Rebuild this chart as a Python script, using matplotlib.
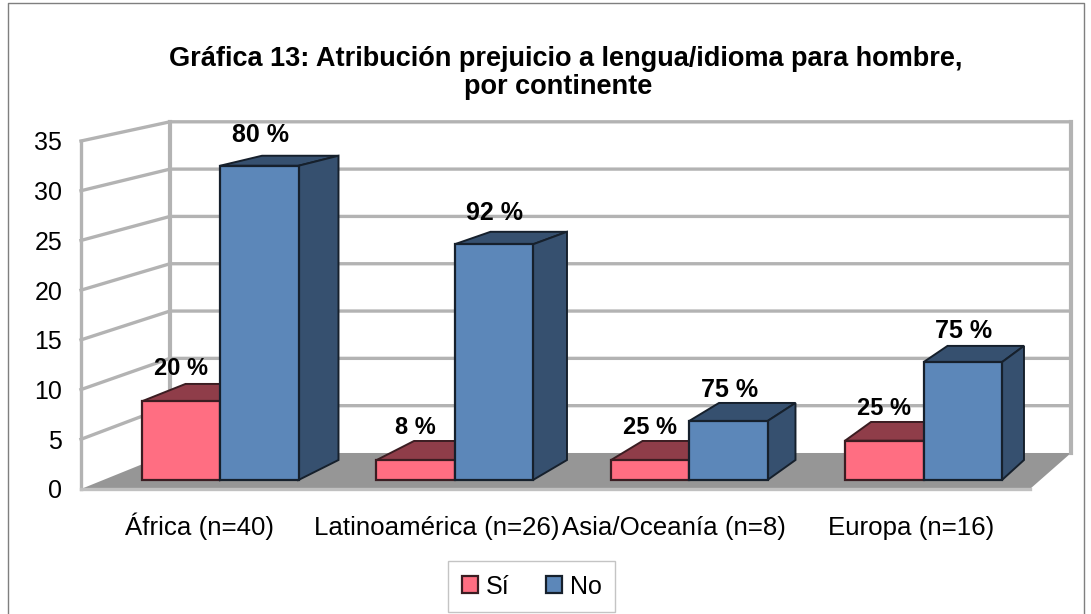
import matplotlib
matplotlib.use("Agg")
import matplotlib.pyplot as plt
from matplotlib.lines import Line2D
from matplotlib.patches import Polygon

plt.rcParams["font.family"] = ["Liberation Sans", "DejaVu Sans"]

W, H = 1091, 614

categories = ["África (n=40)", "Latinoamérica (n=26)", "Asia/Oceanía (n=8)", "Europa (n=16)"]
si_values = [8, 2, 2, 4]
no_values = [32, 24, 6, 12]
si_labels = ["20 %", "8 %", "25 %", "25 %"]
no_labels = ["80 %", "92 %", "75 %", "75 %"]
y_ticks = [0, 5, 10, 15, 20, 25, 30, 35]

GRID = "#b3b3b3"
SI_FRONT, SI_DARK, SI_EDGE = "#ff6e82", "#8f3d49", "#3b1d22"
NO_FRONT, NO_DARK, NO_EDGE = "#5c87b9", "#36506f", "#16202c"


def rect(left, top, right, bottom):
    return [left / W, 1 - bottom / H, (right - left) / W, (bottom - top) / H]


fig = plt.figure(figsize=(W / 100, H / 100), dpi=100)

# outer frame, cut off at the bottom like the original
fig.add_artist(Line2D([8 / W, 8 / W, 1084 / W, 1084 / W], [0, 1 - 3 / H, 1 - 3 / H, 0],
                      color="#7f7f7f", lw=1.0))

fig.text(566 / W, 1 - 59 / H, "Gráfica 13: Atribución prejuicio a lengua/idioma para hombre,",
         ha="center", va="center", fontsize=19.5, fontweight="bold")
fig.text(558 / W, 1 - 87 / H, "por continente",
         ha="center", va="center", fontsize=19.5, fontweight="bold")

# walls and floor, in the scale of the front edge of the chart
ax_wall = fig.add_axes(rect(81, 141, 1030, 489), zorder=1)
ax_wall.set_xlim(-0.5, 3.5)
ax_wall.set_ylim(0, 35)
ax_wall.patch.set_visible(False)
for s in ax_wall.spines.values():
    s.set_visible(False)


def back_y(v):
    return (36 + 9.46 * v) / 9.94


back_left = -0.5 + 89 / 237.25
back_right = 3.5 + 41 / 237.25

ax_wall.add_patch(Polygon([(-0.5, 0), (3.5, 0), (back_right, back_y(0)), (back_left, back_y(0))],
                          facecolor="#969696", edgecolor="none", clip_on=False, zorder=1))
for v in y_ticks[1:]:
    ax_wall.plot([-0.5, back_left, back_right], [v, back_y(v), back_y(v)],
                 color=GRID, lw=2.4, clip_on=False, zorder=2, solid_joinstyle="miter")
for x in [back_left, back_right]:
    ax_wall.plot([x, x], [back_y(0), back_y(35)], color=GRID, lw=3.0, clip_on=False, zorder=2)
ax_wall.plot([-0.5, -0.5], [0, 35], color=GRID, lw=2.4, clip_on=False, zorder=2)
ax_wall.plot([-0.5, 3.5], [0, 0], color="#c0c0c0", lw=2.4, clip_on=False, zorder=2)

ax_wall.set_yticks(y_ticks)
ax_wall.tick_params(axis="y", length=0, pad=13.5, labelsize=18)
ax_wall.set_xticks([0, 1, 2, 3])
ax_wall.set_xticklabels(categories)
ax_wall.tick_params(axis="x", length=0, pad=33, labelsize=18.6)
for lab in ax_wall.get_xticklabels():
    lab.set_verticalalignment("baseline")

# bars, front plane
ax = fig.add_axes(rect(102.75, 136.3, 1040.75, 480), zorder=2)
ax.set_xlim(-0.5, 3.5)
ax.set_ylim(0, 35)
ax.axis("off")

BAR_W = 78.5 / 234.5


def depth(x, v):
    dx = (40 + 0.0256 * (78 - 234.5 * x)) / 234.5
    dy = (20 - 0.312 * v) / 9.82
    return dx, dy


def draw_box(x0, v, dark, edge, z):
    x1 = x0 + BAR_W
    dx0, dy = depth(x0, v)
    dx1, dy0 = depth(x1, 0)
    dx1t, dyt = depth(x1, v)
    # top
    ax.add_patch(Polygon([(x0, v), (x1, v), (x1 + dx1t, v + dyt), (x0 + dx0, v + dy)],
                         facecolor=dark, edgecolor=edge, lw=1.4, zorder=z, clip_on=False))
    # side
    ax.add_patch(Polygon([(x1, 0), (x1, v), (x1 + dx1t, v + dyt), (x1 + dx1, dy0)],
                         facecolor=dark, edgecolor=edge, lw=1.4, zorder=z, clip_on=False))


for i in range(len(categories)):
    draw_box(i - BAR_W, si_values[i], SI_DARK, SI_EDGE, 2)
    draw_box(i, no_values[i], NO_DARK, NO_EDGE, 4)

pos = list(range(len(categories)))
si_bars = ax.bar([p - BAR_W for p in pos], si_values, BAR_W, align="edge", color=SI_FRONT,
                 edgecolor=SI_EDGE, linewidth=1.6, zorder=3, label="Sí", clip_on=False)
no_bars = ax.bar(pos, no_values, BAR_W, align="edge", color=NO_FRONT,
                 edgecolor=NO_EDGE, linewidth=1.6, zorder=5, label="No", clip_on=False)

for i in pos:
    ax.annotate(si_labels[i], (i - BAR_W / 2, si_values[i]), xytext=(0, 23.5),
                textcoords="offset points", ha="center", va="center",
                fontsize=17, fontweight="bold", zorder=6)
    ax.annotate(no_labels[i], (i + BAR_W / 2, no_values[i]), xytext=(0.7, 22.3),
                textcoords="offset points", ha="center", va="center",
                fontsize=18, fontweight="bold", zorder=6)

fig.legend(handles=[si_bars, no_bars], labels=["Sí", "No"], ncol=2, loc="center",
           bbox_to_anchor=(531.5 / W, 1 - 586.5 / H), fontsize=18, fancybox=False, framealpha=1,
           edgecolor="#c4c4c4", handlelength=0.64, handleheight=0.64, handletextpad=0.32,
           columnspacing=1.45, borderpad=0.55)

fig.savefig("out.png", dpi=100)
